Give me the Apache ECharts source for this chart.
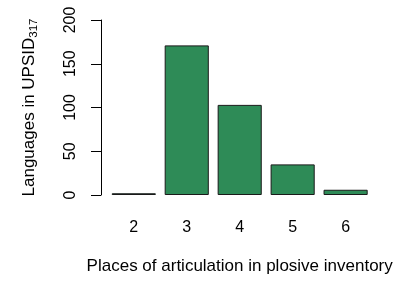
<!DOCTYPE html>
<html><head><meta charset="utf-8">
<script src="https://cdn.jsdelivr.net/npm/echarts@6/dist/echarts.min.js"></script>
<style>html,body{margin:0;padding:0;background:#fff}#c{width:401px;height:281px}</style>
</head><body><div id="c"></div>
<script>
const categories = ['2', '3', '4', '5', '6'];
const languages = [2, 171, 103, 35, 6];
const yTicks = { min: 0, max: 200, interval: 50 };
const FONT = '"Liberation Sans", Arial, Helvetica, sans-serif';

const chart = echarts.init(document.getElementById('c'), null, { renderer: 'canvas' });
chart.setOption({
  animation: false,
  backgroundColor: '#ffffff',
  textStyle: { fontFamily: FONT },
  grid: { left: 107.3, right: 28.9, top: 20, bottom: 86, containLabel: false },
  xAxis: {
    type: 'category',
    data: categories,
    axisLine: { show: false },
    axisTick: { show: false },
    axisLabel: { color: '#000', fontSize: 16, fontFamily: FONT, margin: 25 },
    name: 'Places of articulation in plosive inventory',
    nameLocation: 'middle',
    nameGap: 63,
    nameTextStyle: { color: '#000', fontSize: 17, fontFamily: FONT }
  },
  yAxis: {
    type: 'value',
    min: yTicks.min, max: yTicks.max, interval: yTicks.interval,
    offset: 6.3,
    splitLine: { show: false },
    axisLine: { show: true, lineStyle: { color: '#000', width: 1 } },
    axisTick: { show: true, length: 10, lineStyle: { color: '#000', width: 1 } },
    axisLabel: { color: '#000', fontSize: 16, fontFamily: FONT, rotate: 90, margin: 22 },
    name: '{a|Languages in UPSID}{b|317}',
    nameLocation: 'middle',
    nameRotate: 90,
    nameGap: 61,
    nameTextStyle: {
      color: '#000', fontFamily: FONT, fontSize: 17,
      rich: {
        a: { color: '#000', fontSize: 17, fontFamily: FONT },
        b: { color: '#000', fontSize: 11.5, fontFamily: FONT, padding: [9, 0, 0, 0] }
      }
    }
  },
  series: [{
    type: 'bar',
    data: languages,
    barCategoryGap: '16.7%',
    itemStyle: { color: '#2E8B57', borderColor: '#1a1a1a', borderWidth: 1 }
  }]
});
</script></body></html>
